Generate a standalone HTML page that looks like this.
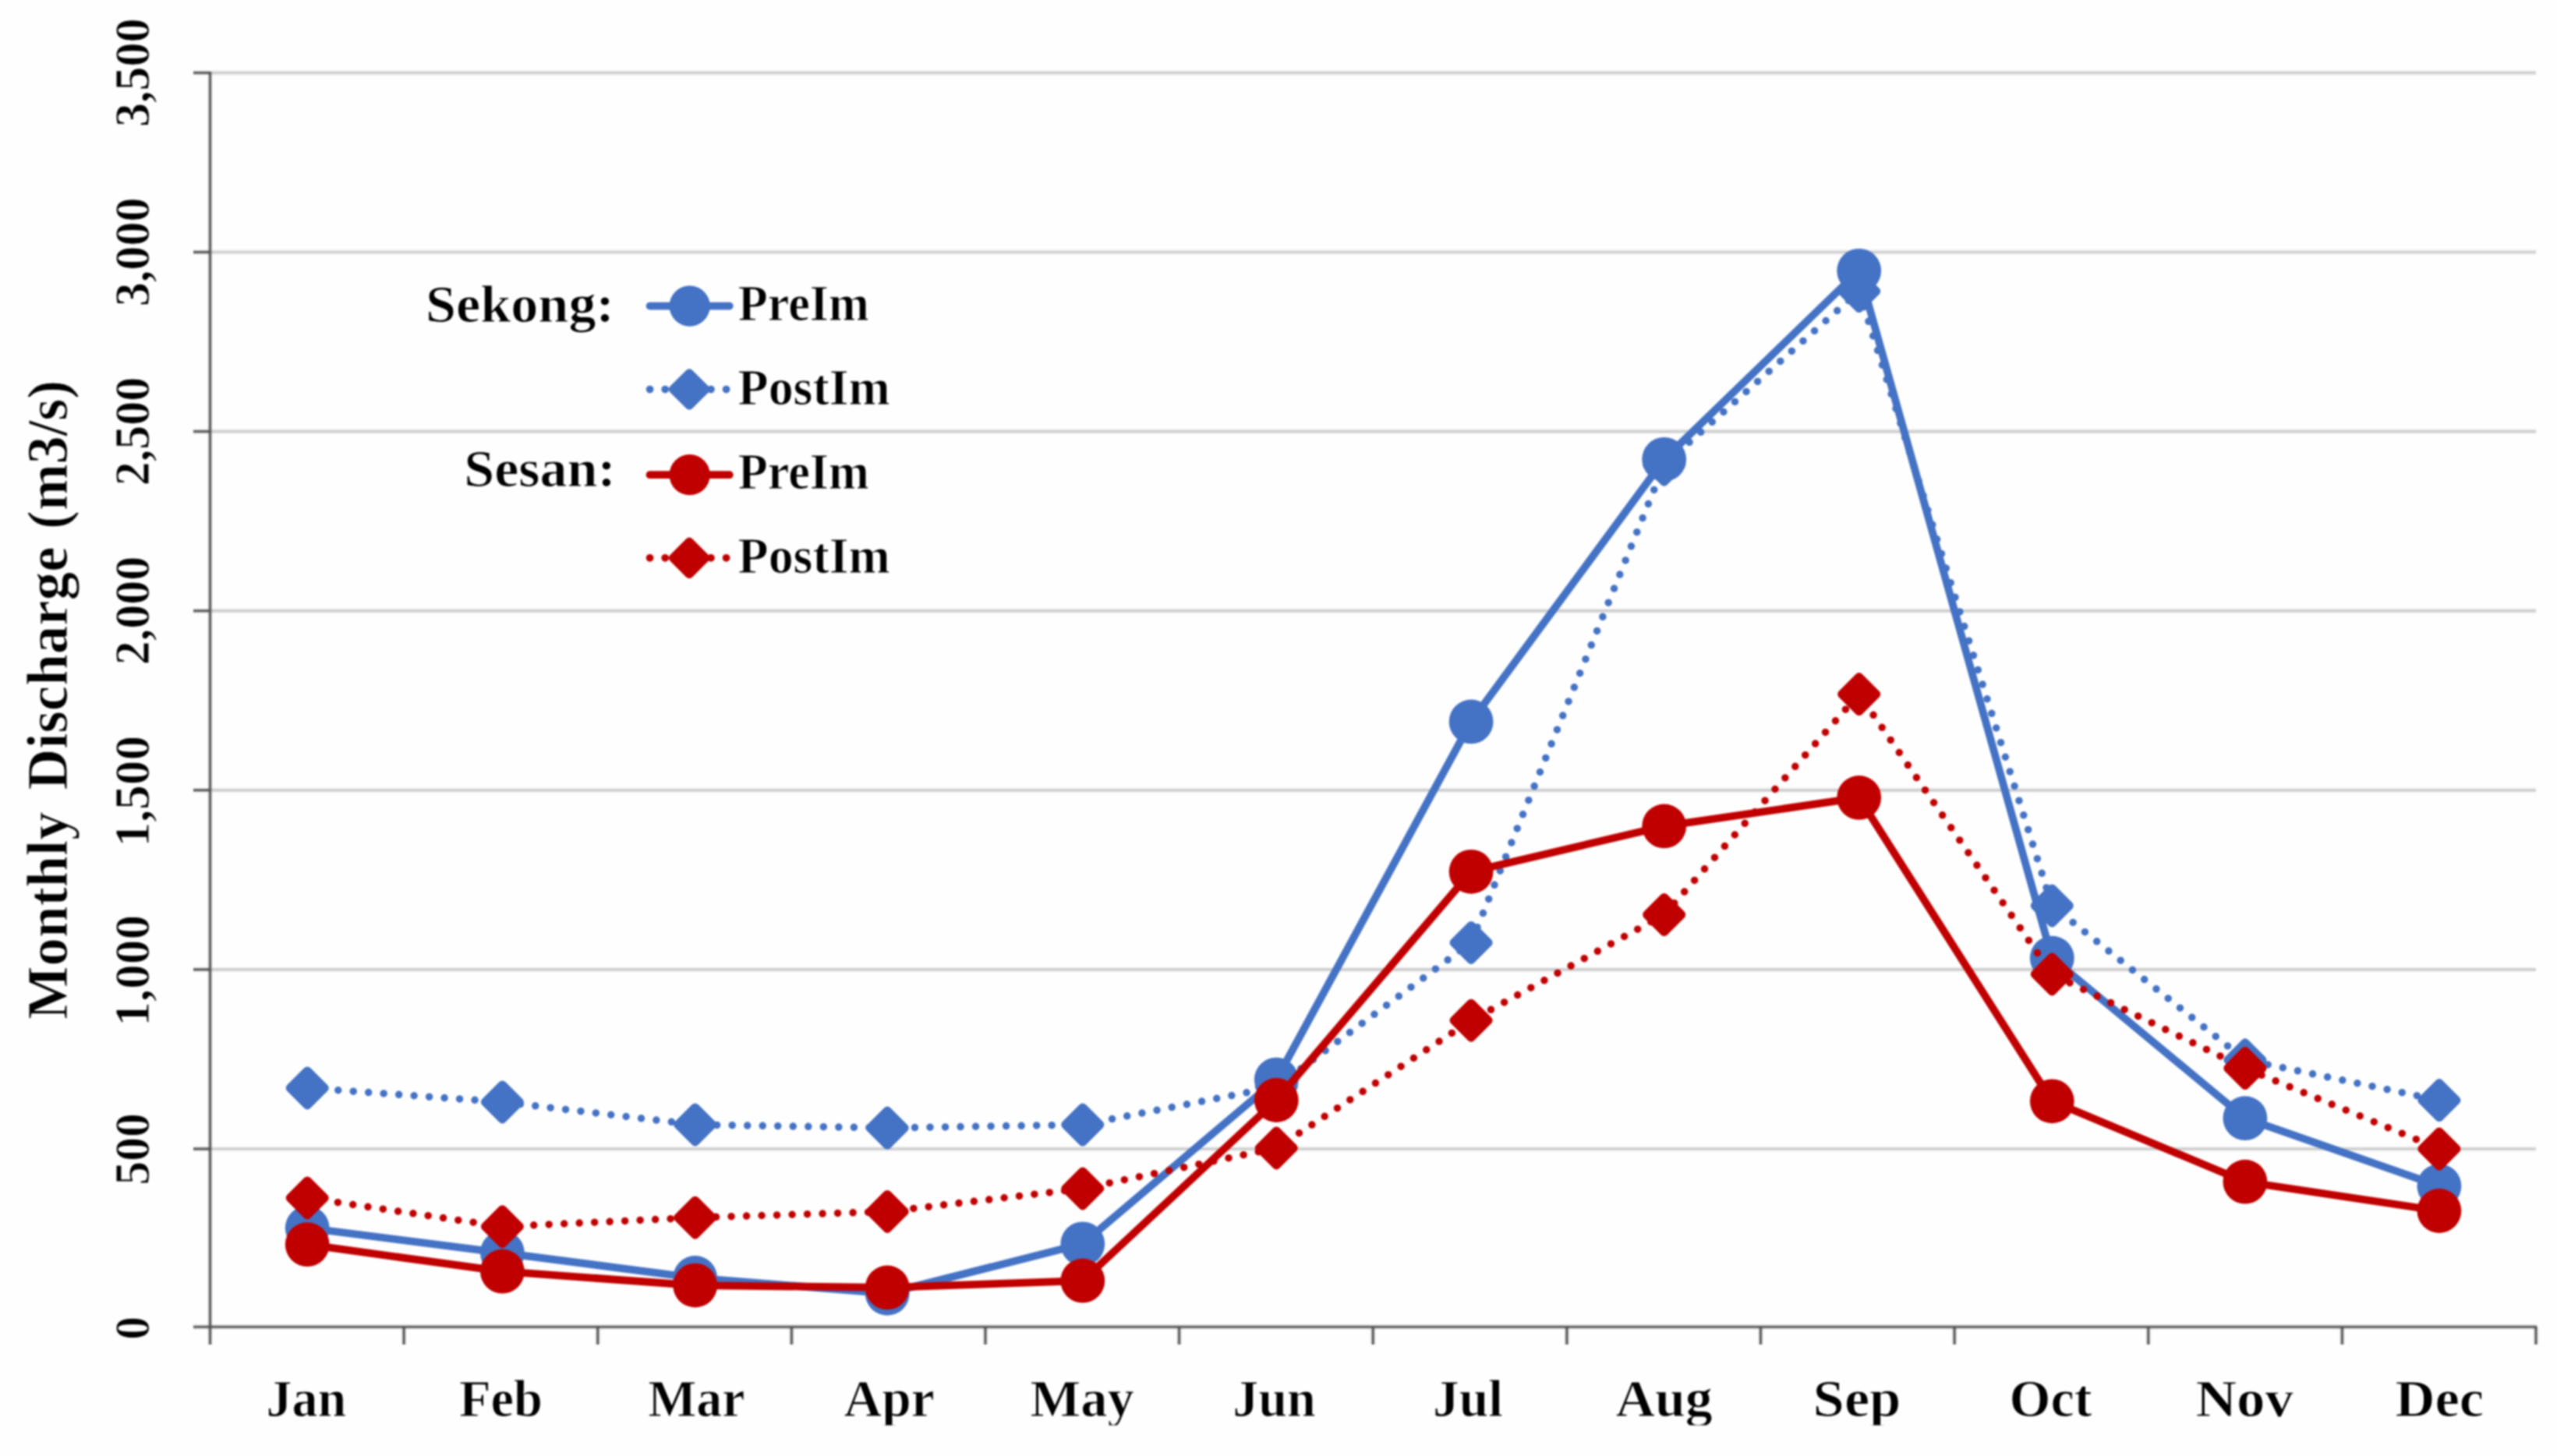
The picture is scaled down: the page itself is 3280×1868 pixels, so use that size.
<!DOCTYPE html>
<html><head><meta charset="utf-8"><title>Monthly Discharge</title>
<style>
html,body{margin:0;padding:0;background:#fff;}
body{width:3280px;height:1868px;overflow:hidden;}
svg{display:block;filter:blur(0.8px);}
text{font-family:"Liberation Serif",serif;font-weight:bold;fill:#000;stroke:#FEFEFE;stroke-width:1px;}
</style></head><body>
<svg width="3280" height="1868" viewBox="0 0 3280 1868">
<rect width="3280" height="1868" fill="#FEFEFE"/>
<defs><clipPath id="xl"><rect x="0" y="1740" width="3280" height="88.4"/></clipPath></defs>
<g stroke="#C6C6C6">
<line x1="269.5" y1="1474.0" x2="3253.0" y2="1474.0" stroke-width="6" stroke-opacity="0.35"/><line x1="269.5" y1="1474.0" x2="3253.0" y2="1474.0" stroke-width="2.2"/>
<line x1="269.5" y1="1243.9" x2="3253.0" y2="1243.9" stroke-width="6" stroke-opacity="0.35"/><line x1="269.5" y1="1243.9" x2="3253.0" y2="1243.9" stroke-width="2.2"/>
<line x1="269.5" y1="1013.8" x2="3253.0" y2="1013.8" stroke-width="6" stroke-opacity="0.35"/><line x1="269.5" y1="1013.8" x2="3253.0" y2="1013.8" stroke-width="2.2"/>
<line x1="269.5" y1="783.7" x2="3253.0" y2="783.7" stroke-width="6" stroke-opacity="0.35"/><line x1="269.5" y1="783.7" x2="3253.0" y2="783.7" stroke-width="2.2"/>
<line x1="269.5" y1="553.6" x2="3253.0" y2="553.6" stroke-width="6" stroke-opacity="0.35"/><line x1="269.5" y1="553.6" x2="3253.0" y2="553.6" stroke-width="2.2"/>
<line x1="269.5" y1="323.5" x2="3253.0" y2="323.5" stroke-width="6" stroke-opacity="0.35"/><line x1="269.5" y1="323.5" x2="3253.0" y2="323.5" stroke-width="2.2"/>
<line x1="269.5" y1="93.4" x2="3253.0" y2="93.4" stroke-width="6" stroke-opacity="0.35"/><line x1="269.5" y1="93.4" x2="3253.0" y2="93.4" stroke-width="2.2"/>
</g>
<g stroke="#4E4E4E" fill="none">
<line x1="269.5" y1="92.2" x2="269.5" y2="1724.9" stroke-width="5.6" stroke-opacity="0.3"/><line x1="269.5" y1="92.2" x2="269.5" y2="1724.9" stroke-width="2.4"/>
<line x1="248.0" y1="1702.4" x2="3254.2" y2="1702.4" stroke-width="5.6" stroke-opacity="0.3"/><line x1="248.0" y1="1702.4" x2="3254.2" y2="1702.4" stroke-width="2.4"/>
<line x1="248.0" y1="1474.0" x2="269.5" y2="1474.0" stroke-width="5.6" stroke-opacity="0.3"/><line x1="248.0" y1="1474.0" x2="269.5" y2="1474.0" stroke-width="2.4"/>
<line x1="248.0" y1="1243.9" x2="269.5" y2="1243.9" stroke-width="5.6" stroke-opacity="0.3"/><line x1="248.0" y1="1243.9" x2="269.5" y2="1243.9" stroke-width="2.4"/>
<line x1="248.0" y1="1013.8" x2="269.5" y2="1013.8" stroke-width="5.6" stroke-opacity="0.3"/><line x1="248.0" y1="1013.8" x2="269.5" y2="1013.8" stroke-width="2.4"/>
<line x1="248.0" y1="783.7" x2="269.5" y2="783.7" stroke-width="5.6" stroke-opacity="0.3"/><line x1="248.0" y1="783.7" x2="269.5" y2="783.7" stroke-width="2.4"/>
<line x1="248.0" y1="553.6" x2="269.5" y2="553.6" stroke-width="5.6" stroke-opacity="0.3"/><line x1="248.0" y1="553.6" x2="269.5" y2="553.6" stroke-width="2.4"/>
<line x1="248.0" y1="323.5" x2="269.5" y2="323.5" stroke-width="5.6" stroke-opacity="0.3"/><line x1="248.0" y1="323.5" x2="269.5" y2="323.5" stroke-width="2.4"/>
<line x1="248.0" y1="93.4" x2="269.5" y2="93.4" stroke-width="5.6" stroke-opacity="0.3"/><line x1="248.0" y1="93.4" x2="269.5" y2="93.4" stroke-width="2.4"/>
<line x1="518.1" y1="1702.4" x2="518.1" y2="1724.9" stroke-width="5.6" stroke-opacity="0.3"/><line x1="518.1" y1="1702.4" x2="518.1" y2="1724.9" stroke-width="2.4"/>
<line x1="766.8" y1="1702.4" x2="766.8" y2="1724.9" stroke-width="5.6" stroke-opacity="0.3"/><line x1="766.8" y1="1702.4" x2="766.8" y2="1724.9" stroke-width="2.4"/>
<line x1="1015.4" y1="1702.4" x2="1015.4" y2="1724.9" stroke-width="5.6" stroke-opacity="0.3"/><line x1="1015.4" y1="1702.4" x2="1015.4" y2="1724.9" stroke-width="2.4"/>
<line x1="1264.0" y1="1702.4" x2="1264.0" y2="1724.9" stroke-width="5.6" stroke-opacity="0.3"/><line x1="1264.0" y1="1702.4" x2="1264.0" y2="1724.9" stroke-width="2.4"/>
<line x1="1512.6" y1="1702.4" x2="1512.6" y2="1724.9" stroke-width="5.6" stroke-opacity="0.3"/><line x1="1512.6" y1="1702.4" x2="1512.6" y2="1724.9" stroke-width="2.4"/>
<line x1="1761.2" y1="1702.4" x2="1761.2" y2="1724.9" stroke-width="5.6" stroke-opacity="0.3"/><line x1="1761.2" y1="1702.4" x2="1761.2" y2="1724.9" stroke-width="2.4"/>
<line x1="2009.9" y1="1702.4" x2="2009.9" y2="1724.9" stroke-width="5.6" stroke-opacity="0.3"/><line x1="2009.9" y1="1702.4" x2="2009.9" y2="1724.9" stroke-width="2.4"/>
<line x1="2258.5" y1="1702.4" x2="2258.5" y2="1724.9" stroke-width="5.6" stroke-opacity="0.3"/><line x1="2258.5" y1="1702.4" x2="2258.5" y2="1724.9" stroke-width="2.4"/>
<line x1="2507.1" y1="1702.4" x2="2507.1" y2="1724.9" stroke-width="5.6" stroke-opacity="0.3"/><line x1="2507.1" y1="1702.4" x2="2507.1" y2="1724.9" stroke-width="2.4"/>
<line x1="2755.8" y1="1702.4" x2="2755.8" y2="1724.9" stroke-width="5.6" stroke-opacity="0.3"/><line x1="2755.8" y1="1702.4" x2="2755.8" y2="1724.9" stroke-width="2.4"/>
<line x1="3004.4" y1="1702.4" x2="3004.4" y2="1724.9" stroke-width="5.6" stroke-opacity="0.3"/><line x1="3004.4" y1="1702.4" x2="3004.4" y2="1724.9" stroke-width="2.4"/>
<line x1="3253.0" y1="1702.4" x2="3253.0" y2="1724.9" stroke-width="5.6" stroke-opacity="0.3"/><line x1="3253.0" y1="1702.4" x2="3253.0" y2="1724.9" stroke-width="2.4"/>
</g>
<polyline points="394.2,1575.5 644.4,1607.3 891.7,1639.5 1138.2,1659.3 1388.8,1595.8 1637.3,1385.1 1887.1,925.9 2134.7,589.3 2384.7,347.3 2632.3,1229.2 2879.9,1434.7 3128.9,1521.7" fill="none" stroke="#4472C4" stroke-width="9.75" stroke-linejoin="round" stroke-linecap="round"/>
<circle cx="394.2" cy="1575.5" r="28.4" fill="#4472C4"/><circle cx="644.4" cy="1607.3" r="28.4" fill="#4472C4"/><circle cx="891.7" cy="1639.5" r="28.4" fill="#4472C4"/><circle cx="1138.2" cy="1659.3" r="28.4" fill="#4472C4"/><circle cx="1388.8" cy="1595.8" r="28.4" fill="#4472C4"/><circle cx="1637.3" cy="1385.1" r="28.4" fill="#4472C4"/><circle cx="1887.1" cy="925.9" r="28.4" fill="#4472C4"/><circle cx="2134.7" cy="589.3" r="28.4" fill="#4472C4"/><circle cx="2384.7" cy="347.3" r="28.4" fill="#4472C4"/><circle cx="2632.3" cy="1229.2" r="28.4" fill="#4472C4"/><circle cx="2879.9" cy="1434.7" r="28.4" fill="#4472C4"/><circle cx="3128.9" cy="1521.7" r="28.4" fill="#4472C4"/>
<polyline points="394.2,1395.9 644.4,1413.9 891.7,1442.9 1138.2,1447.1 1388.8,1443.0 1637.3,1394.3 1887.1,1209.4 2134.7,596.2 2384.7,373.6 2632.3,1162.0 2879.9,1359.8 3128.9,1411.6" fill="none" stroke="#4472C4" stroke-width="9.5" stroke-linejoin="round" stroke-linecap="round" stroke-dasharray="0 19.527" stroke-dashoffset="18.927"/>
<path d="M394.2 1373.9L416.2 1395.9L394.2 1417.9L372.2 1395.9Z" fill="#4472C4" stroke="#4472C4" stroke-width="11.0" stroke-linejoin="round"/><path d="M644.4 1391.9L666.4 1413.9L644.4 1435.9L622.4 1413.9Z" fill="#4472C4" stroke="#4472C4" stroke-width="11.0" stroke-linejoin="round"/><path d="M891.7 1420.9L913.7 1442.9L891.7 1464.9L869.7 1442.9Z" fill="#4472C4" stroke="#4472C4" stroke-width="11.0" stroke-linejoin="round"/><path d="M1138.2 1425.1L1160.2 1447.1L1138.2 1469.1L1116.2 1447.1Z" fill="#4472C4" stroke="#4472C4" stroke-width="11.0" stroke-linejoin="round"/><path d="M1388.8 1421.0L1410.8 1443.0L1388.8 1465.0L1366.8 1443.0Z" fill="#4472C4" stroke="#4472C4" stroke-width="11.0" stroke-linejoin="round"/><path d="M1637.3 1372.3L1659.3 1394.3L1637.3 1416.3L1615.3 1394.3Z" fill="#4472C4" stroke="#4472C4" stroke-width="11.0" stroke-linejoin="round"/><path d="M1887.1 1187.4L1909.1 1209.4L1887.1 1231.4L1865.1 1209.4Z" fill="#4472C4" stroke="#4472C4" stroke-width="11.0" stroke-linejoin="round"/><path d="M2134.7 574.2L2156.7 596.2L2134.7 618.2L2112.7 596.2Z" fill="#4472C4" stroke="#4472C4" stroke-width="11.0" stroke-linejoin="round"/><path d="M2384.7 351.6L2406.7 373.6L2384.7 395.6L2362.7 373.6Z" fill="#4472C4" stroke="#4472C4" stroke-width="11.0" stroke-linejoin="round"/><path d="M2632.3 1140.0L2654.3 1162.0L2632.3 1184.0L2610.3 1162.0Z" fill="#4472C4" stroke="#4472C4" stroke-width="11.0" stroke-linejoin="round"/><path d="M2879.9 1337.8L2901.9 1359.8L2879.9 1381.8L2857.9 1359.8Z" fill="#4472C4" stroke="#4472C4" stroke-width="11.0" stroke-linejoin="round"/><path d="M3128.9 1389.6L3150.9 1411.6L3128.9 1433.6L3106.9 1411.6Z" fill="#4472C4" stroke="#4472C4" stroke-width="11.0" stroke-linejoin="round"/>
<polyline points="394.2,1596.7 644.4,1631.2 891.7,1649.1 1138.2,1651.9 1388.8,1643.2 1637.3,1411.5 1887.1,1118.3 2134.7,1059.9 2384.7,1023.4 2632.3,1412.8 2879.9,1516.2 3128.9,1553.5" fill="none" stroke="#C00000" stroke-width="9.75" stroke-linejoin="round" stroke-linecap="round"/>
<circle cx="394.2" cy="1596.7" r="28.4" fill="#C00000"/><circle cx="644.4" cy="1631.2" r="28.4" fill="#C00000"/><circle cx="891.7" cy="1649.1" r="28.4" fill="#C00000"/><circle cx="1138.2" cy="1651.9" r="28.4" fill="#C00000"/><circle cx="1388.8" cy="1643.2" r="28.4" fill="#C00000"/><circle cx="1637.3" cy="1411.5" r="28.4" fill="#C00000"/><circle cx="1887.1" cy="1118.3" r="28.4" fill="#C00000"/><circle cx="2134.7" cy="1059.9" r="28.4" fill="#C00000"/><circle cx="2384.7" cy="1023.4" r="28.4" fill="#C00000"/><circle cx="2632.3" cy="1412.8" r="28.4" fill="#C00000"/><circle cx="2879.9" cy="1516.2" r="28.4" fill="#C00000"/><circle cx="3128.9" cy="1553.5" r="28.4" fill="#C00000"/>
<polyline points="394.2,1536.9 644.4,1573.7 891.7,1562.2 1138.2,1554.4 1388.8,1524.9 1637.3,1472.9 1887.1,1309.2 2134.7,1173.5 2384.7,890.6 2632.3,1249.9 2879.9,1370.5 3128.9,1474.0" fill="none" stroke="#C00000" stroke-width="9.5" stroke-linejoin="round" stroke-linecap="round" stroke-dasharray="0 19.51" stroke-dashoffset="18.910"/>
<path d="M394.2 1514.9L416.2 1536.9L394.2 1558.9L372.2 1536.9Z" fill="#C00000" stroke="#C00000" stroke-width="11.0" stroke-linejoin="round"/><path d="M644.4 1551.7L666.4 1573.7L644.4 1595.7L622.4 1573.7Z" fill="#C00000" stroke="#C00000" stroke-width="11.0" stroke-linejoin="round"/><path d="M891.7 1540.2L913.7 1562.2L891.7 1584.2L869.7 1562.2Z" fill="#C00000" stroke="#C00000" stroke-width="11.0" stroke-linejoin="round"/><path d="M1138.2 1532.4L1160.2 1554.4L1138.2 1576.4L1116.2 1554.4Z" fill="#C00000" stroke="#C00000" stroke-width="11.0" stroke-linejoin="round"/><path d="M1388.8 1502.9L1410.8 1524.9L1388.8 1546.9L1366.8 1524.9Z" fill="#C00000" stroke="#C00000" stroke-width="11.0" stroke-linejoin="round"/><path d="M1637.3 1450.9L1659.3 1472.9L1637.3 1494.9L1615.3 1472.9Z" fill="#C00000" stroke="#C00000" stroke-width="11.0" stroke-linejoin="round"/><path d="M1887.1 1287.2L1909.1 1309.2L1887.1 1331.2L1865.1 1309.2Z" fill="#C00000" stroke="#C00000" stroke-width="11.0" stroke-linejoin="round"/><path d="M2134.7 1151.5L2156.7 1173.5L2134.7 1195.5L2112.7 1173.5Z" fill="#C00000" stroke="#C00000" stroke-width="11.0" stroke-linejoin="round"/><path d="M2384.7 868.6L2406.7 890.6L2384.7 912.6L2362.7 890.6Z" fill="#C00000" stroke="#C00000" stroke-width="11.0" stroke-linejoin="round"/><path d="M2632.3 1227.9L2654.3 1249.9L2632.3 1271.9L2610.3 1249.9Z" fill="#C00000" stroke="#C00000" stroke-width="11.0" stroke-linejoin="round"/><path d="M2879.9 1348.5L2901.9 1370.5L2879.9 1392.5L2857.9 1370.5Z" fill="#C00000" stroke="#C00000" stroke-width="11.0" stroke-linejoin="round"/><path d="M3128.9 1452.0L3150.9 1474.0L3128.9 1496.0L3106.9 1474.0Z" fill="#C00000" stroke="#C00000" stroke-width="11.0" stroke-linejoin="round"/>
<line x1="833.5" y1="392.6" x2="935.8" y2="392.6" stroke="#4472C4" stroke-width="9.75" stroke-linecap="round"/><circle cx="884.7" cy="392.6" r="26.1" fill="#4472C4"/>
<line x1="833.6" y1="499.5" x2="936" y2="499.5" stroke="#4472C4" stroke-width="9.75" stroke-linecap="round" stroke-dasharray="0 19.6"/><path d="M884.2 478.8L904.9 499.5L884.2 520.2L863.5 499.5Z" fill="#4472C4" stroke="#4472C4" stroke-width="11" stroke-linejoin="round"/>
<line x1="833.5" y1="609.2" x2="935.8" y2="609.2" stroke="#C00000" stroke-width="9.75" stroke-linecap="round"/><circle cx="884.7" cy="609.2" r="26.1" fill="#C00000"/>
<line x1="833.6" y1="715.8" x2="936" y2="715.8" stroke="#C00000" stroke-width="9.75" stroke-linecap="round" stroke-dasharray="0 19.6"/><path d="M884.2 695.1L904.9 715.8L884.2 736.5L863.5 715.8Z" fill="#C00000" stroke="#C00000" stroke-width="11" stroke-linejoin="round"/>
<text transform="translate(546.00 412.70) scale(1.0326 1)" font-size="68">Sekong:</text>
<text transform="translate(595.31 623.80) scale(1.0295 1)" font-size="68">Sesan:</text>
<text transform="translate(946.64 410.80) scale(0.9575 1)" font-size="65">PreIm</text>
<text transform="translate(946.62 518.80) scale(0.9831 1)" font-size="65">PostIm</text>
<text transform="translate(946.64 626.90) scale(0.9575 1)" font-size="65">PreIm</text>
<text transform="translate(946.62 735.00) scale(0.9831 1)" font-size="65">PostIm</text>
<g clip-path="url(#xl)">
<text transform="translate(341.39 1817.10) scale(0.9716 1)" font-size="68">Jan</text>
<text transform="translate(589.02 1817.10) scale(0.9773 1)" font-size="68">Feb</text>
<text transform="translate(831.13 1817.10) scale(0.9692 1)" font-size="68">Mar</text>
<text transform="translate(1082.50 1817.10) scale(0.9920 1)" font-size="68">Apr</text>
<text transform="translate(1321.49 1817.10) scale(1.0078 1)" font-size="68">May</text>
<text transform="translate(1581.18 1817.10) scale(0.9724 1)" font-size="68">Jun</text>
<text transform="translate(1837.92 1817.10) scale(0.9929 1)" font-size="68">Jul</text>
<text transform="translate(2072.40 1817.10) scale(1.0287 1)" font-size="68">Aug</text>
<text transform="translate(2325.60 1817.10) scale(1.0663 1)" font-size="68">Sep</text>
<text transform="translate(2577.49 1817.10) scale(1.0022 1)" font-size="68">Oct</text>
<text transform="translate(2816.43 1817.10) scale(1.0723 1)" font-size="68">Nov</text>
<text transform="translate(3072.46 1817.10) scale(1.0392 1)" font-size="68">Dec</text>
</g>
<text transform="translate(191.00 1719.01) rotate(-90) scale(0.9571 1)" font-size="63">0</text>
<text transform="translate(191.00 1520.55) rotate(-90) scale(0.9758 1)" font-size="63">500</text>
<text transform="translate(191.00 1316.64) rotate(-90) scale(1.0070 1)" font-size="63">1,000</text>
<text transform="translate(191.00 1086.54) rotate(-90) scale(1.0070 1)" font-size="63">1,500</text>
<text transform="translate(191.00 853.37) rotate(-90) scale(0.9852 1)" font-size="63">2,000</text>
<text transform="translate(191.00 623.27) rotate(-90) scale(0.9852 1)" font-size="63">2,500</text>
<text transform="translate(191.00 393.17) rotate(-90) scale(0.9852 1)" font-size="63">3,000</text>
<text transform="translate(191.00 163.07) rotate(-90) scale(0.9852 1)" font-size="63">3,500</text>
<text transform="translate(85.50 1308.08) rotate(-90) scale(0.9831 1)" font-size="74">Monthly</text>
<text transform="translate(85.50 1013.59) rotate(-90) scale(0.9868 1)" font-size="74">Discharge</text>
<text transform="translate(85.50 678.91) rotate(-90) scale(0.9685 1)" font-size="74">(m3/s)</text>
</svg>
</body></html>
